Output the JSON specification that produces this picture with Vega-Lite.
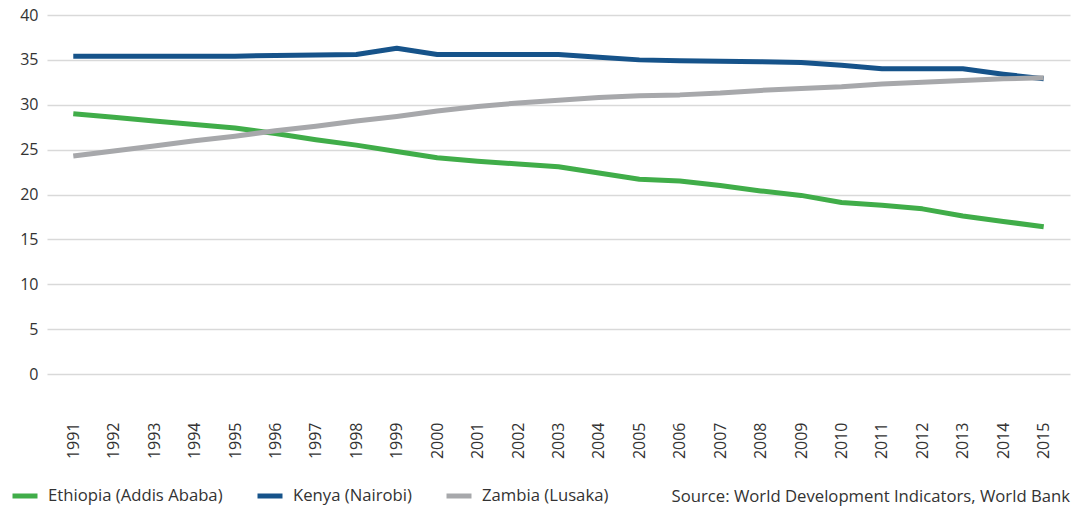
{
  "$schema": "https://vega.github.io/schema/vega-lite/v6.json",
  "width": 1023,
  "height": 359,
  "autosize": {"type": "none"},
  "padding": {"left": 47, "top": 15, "right": 8, "bottom": 140},
  "background": "white",
  "config": {
    "font": "Open Sans",
    "view": {"stroke": null}
  },
  "title": {
    "text": "Source:  World Development Indicators, World Bank",
    "orient": "bottom",
    "anchor": "end",
    "frame": "group",
    "offset": -17,
    "fontSize": 16.7,
    "fontWeight": "normal",
    "color": "#333333",
    "font": "Open Sans"
  },
  "data": {
    "values": [
      {"year": "1991", "city": "Ethiopia (Addis Ababa)", "value": 29.0},
      {"year": "1992", "city": "Ethiopia (Addis Ababa)", "value": 28.6},
      {"year": "1993", "city": "Ethiopia (Addis Ababa)", "value": 28.2},
      {"year": "1994", "city": "Ethiopia (Addis Ababa)", "value": 27.8},
      {"year": "1995", "city": "Ethiopia (Addis Ababa)", "value": 27.4},
      {"year": "1996", "city": "Ethiopia (Addis Ababa)", "value": 26.8},
      {"year": "1997", "city": "Ethiopia (Addis Ababa)", "value": 26.1},
      {"year": "1998", "city": "Ethiopia (Addis Ababa)", "value": 25.5},
      {"year": "1999", "city": "Ethiopia (Addis Ababa)", "value": 24.8},
      {"year": "2000", "city": "Ethiopia (Addis Ababa)", "value": 24.1},
      {"year": "2001", "city": "Ethiopia (Addis Ababa)", "value": 23.7},
      {"year": "2002", "city": "Ethiopia (Addis Ababa)", "value": 23.4},
      {"year": "2003", "city": "Ethiopia (Addis Ababa)", "value": 23.1},
      {"year": "2004", "city": "Ethiopia (Addis Ababa)", "value": 22.4},
      {"year": "2005", "city": "Ethiopia (Addis Ababa)", "value": 21.7},
      {"year": "2006", "city": "Ethiopia (Addis Ababa)", "value": 21.5},
      {"year": "2007", "city": "Ethiopia (Addis Ababa)", "value": 21.0},
      {"year": "2008", "city": "Ethiopia (Addis Ababa)", "value": 20.4},
      {"year": "2009", "city": "Ethiopia (Addis Ababa)", "value": 19.9},
      {"year": "2010", "city": "Ethiopia (Addis Ababa)", "value": 19.1},
      {"year": "2011", "city": "Ethiopia (Addis Ababa)", "value": 18.8},
      {"year": "2012", "city": "Ethiopia (Addis Ababa)", "value": 18.4},
      {"year": "2013", "city": "Ethiopia (Addis Ababa)", "value": 17.6},
      {"year": "2014", "city": "Ethiopia (Addis Ababa)", "value": 17.0},
      {"year": "2015", "city": "Ethiopia (Addis Ababa)", "value": 16.4},
      {"year": "1991", "city": "Kenya (Nairobi)", "value": 35.4},
      {"year": "1992", "city": "Kenya (Nairobi)", "value": 35.4},
      {"year": "1993", "city": "Kenya (Nairobi)", "value": 35.4},
      {"year": "1994", "city": "Kenya (Nairobi)", "value": 35.4},
      {"year": "1995", "city": "Kenya (Nairobi)", "value": 35.4},
      {"year": "1996", "city": "Kenya (Nairobi)", "value": 35.5},
      {"year": "1997", "city": "Kenya (Nairobi)", "value": 35.55},
      {"year": "1998", "city": "Kenya (Nairobi)", "value": 35.6},
      {"year": "1999", "city": "Kenya (Nairobi)", "value": 36.3},
      {"year": "2000", "city": "Kenya (Nairobi)", "value": 35.6},
      {"year": "2001", "city": "Kenya (Nairobi)", "value": 35.6},
      {"year": "2002", "city": "Kenya (Nairobi)", "value": 35.6},
      {"year": "2003", "city": "Kenya (Nairobi)", "value": 35.6},
      {"year": "2004", "city": "Kenya (Nairobi)", "value": 35.3},
      {"year": "2005", "city": "Kenya (Nairobi)", "value": 35.0},
      {"year": "2006", "city": "Kenya (Nairobi)", "value": 34.9},
      {"year": "2007", "city": "Kenya (Nairobi)", "value": 34.85},
      {"year": "2008", "city": "Kenya (Nairobi)", "value": 34.8},
      {"year": "2009", "city": "Kenya (Nairobi)", "value": 34.7},
      {"year": "2010", "city": "Kenya (Nairobi)", "value": 34.4},
      {"year": "2011", "city": "Kenya (Nairobi)", "value": 34.0},
      {"year": "2012", "city": "Kenya (Nairobi)", "value": 34.0},
      {"year": "2013", "city": "Kenya (Nairobi)", "value": 34.0},
      {"year": "2014", "city": "Kenya (Nairobi)", "value": 33.4},
      {"year": "2015", "city": "Kenya (Nairobi)", "value": 32.9},
      {"year": "1991", "city": "Zambia (Lusaka)", "value": 24.3},
      {"year": "1992", "city": "Zambia (Lusaka)", "value": 24.85},
      {"year": "1993", "city": "Zambia (Lusaka)", "value": 25.4},
      {"year": "1994", "city": "Zambia (Lusaka)", "value": 26.0},
      {"year": "1995", "city": "Zambia (Lusaka)", "value": 26.5},
      {"year": "1996", "city": "Zambia (Lusaka)", "value": 27.1},
      {"year": "1997", "city": "Zambia (Lusaka)", "value": 27.6},
      {"year": "1998", "city": "Zambia (Lusaka)", "value": 28.2},
      {"year": "1999", "city": "Zambia (Lusaka)", "value": 28.7},
      {"year": "2000", "city": "Zambia (Lusaka)", "value": 29.3},
      {"year": "2001", "city": "Zambia (Lusaka)", "value": 29.8},
      {"year": "2002", "city": "Zambia (Lusaka)", "value": 30.2},
      {"year": "2003", "city": "Zambia (Lusaka)", "value": 30.5},
      {"year": "2004", "city": "Zambia (Lusaka)", "value": 30.8},
      {"year": "2005", "city": "Zambia (Lusaka)", "value": 31.0},
      {"year": "2006", "city": "Zambia (Lusaka)", "value": 31.1},
      {"year": "2007", "city": "Zambia (Lusaka)", "value": 31.3},
      {"year": "2008", "city": "Zambia (Lusaka)", "value": 31.6},
      {"year": "2009", "city": "Zambia (Lusaka)", "value": 31.8},
      {"year": "2010", "city": "Zambia (Lusaka)", "value": 32.0},
      {"year": "2011", "city": "Zambia (Lusaka)", "value": 32.3},
      {"year": "2012", "city": "Zambia (Lusaka)", "value": 32.5},
      {"year": "2013", "city": "Zambia (Lusaka)", "value": 32.7},
      {"year": "2014", "city": "Zambia (Lusaka)", "value": 32.9},
      {"year": "2015", "city": "Zambia (Lusaka)", "value": 33.0}
    ]
  },
  "mark": {"type": "line", "strokeWidth": 5, "strokeJoin": "round"},
  "encoding": {
    "x": {
      "field": "year",
      "type": "ordinal",
      "scale": {"type": "point", "padding": 0.65},
      "axis": {
        "title": null,
        "domain": false,
        "ticks": false,
        "grid": false,
        "labelAngle": 270,
        "labelPadding": 48,
        "labelFontSize": 16,
        "labelColor": "#333333",
        "labelFont": "Open Sans"
      }
    },
    "y": {
      "field": "value",
      "type": "quantitative",
      "scale": {"domain": [0, 40], "nice": false},
      "axis": {
        "title": null,
        "values": [0, 5, 10, 15, 20, 25, 30, 35, 40],
        "domain": false,
        "ticks": false,
        "grid": true,
        "gridColor": "#d9d9d9",
        "gridWidth": 1.5,
        "labelPadding": 9,
        "labelFontSize": 16,
        "labelColor": "#333333",
        "labelFont": "Open Sans"
      }
    },
    "color": {
      "field": "city",
      "type": "nominal",
      "scale": {
        "domain": ["Ethiopia (Addis Ababa)", "Kenya (Nairobi)", "Zambia (Lusaka)"],
        "range": ["#40ad49", "#16538a", "#a7a8ab"]
      },
      "legend": {
        "title": null,
        "orient": "none",
        "direction": "horizontal",
        "legendX": -37,
        "legendY": 466,
        "padding": 0,
        "symbolType": "stroke",
        "symbolSize": 625,
        "symbolStrokeWidth": 5,
        "labelFontSize": 16.7,
        "labelColor": "#333333",
        "labelFont": "Open Sans",
        "labelLimit": 400,
        "labelOffset": 8,
        "columnPadding": 24
      }
    }
  }
}
